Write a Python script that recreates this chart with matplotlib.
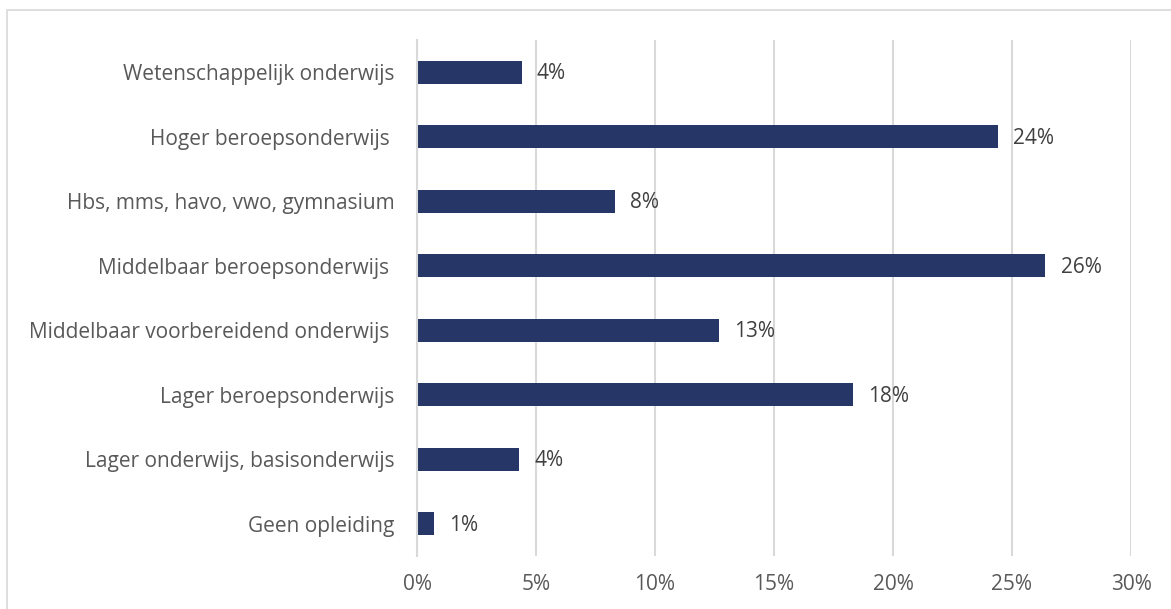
import matplotlib
matplotlib.use("Agg")
import matplotlib.pyplot as plt
from matplotlib.patches import Rectangle

# categories from top to bottom as in the chart
categories = [
    "Wetenschappelijk onderwijs",
    "Hoger beroepsonderwijs ",
    "Hbs, mms, havo, vwo, gymnasium",
    "Middelbaar beroepsonderwijs ",
    "Middelbaar voorbereidend onderwijs ",
    "Lager beroepsonderwijs",
    "Lager onderwijs, basisonderwijs",
    "Geen opleiding",
]
shares = [4.4, 24.4, 8.3, 26.4, 12.7, 18.3, 4.3, 0.7]
tick_vals = [0, 5, 10, 15, 20, 25, 30]
tick_labels = ["0%", "5%", "10%", "15%", "20%", "25%", "30%"]

plt.rcParams['font.family'] = ['Open Sans', 'DejaVu Sans']

fig = plt.figure(figsize=(11.71, 6.09), dpi=100)
# outer chart frame (partly cut off at the right and bottom)
fig.patches.append(Rectangle((7 / 1171, -0.1), 1.2, 1 - 10 / 609 + 0.1,
                             transform=fig.transFigure, fill=False,
                             edgecolor='#d9d9d9', linewidth=1.2))

ax = fig.add_axes([417 / 1171, 1 - 556 / 609, (1131 - 417) / 1171, (556 - 40) / 609])
ypos = list(range(len(categories)))[::-1]
ax.barh(ypos, shares, height=0.36, color='#253667')

for y, v in zip(ypos, shares):
    ax.annotate("{:.0f}%".format(v), xy=(v, y), xytext=(11, -1), textcoords='offset points',
                va='center', ha='left', fontsize=15, color='#404040')

ax.set_xlim(0, 30)
ax.set_ylim(-0.5, 7.5)
ax.set_yticks(ypos)
ax.set_yticklabels(categories, fontsize=15, color='#595959')
ax.set_xticks(tick_vals)
ax.set_xticklabels(tick_labels, fontsize=15, color='#595959')
ax.tick_params(axis='both', length=0)
ax.tick_params(axis='y', pad=16)
ax.tick_params(axis='x', pad=13)
ax.xaxis.grid(True, color='#d9d9d9', linewidth=1.5)
ax.set_axisbelow(True)
for side in ['top', 'right', 'bottom']:
    ax.spines[side].set_visible(False)
ax.spines['left'].set_color('#d9d9d9')
ax.spines['left'].set_linewidth(1.5)

fig.savefig("out.png", dpi=100)
